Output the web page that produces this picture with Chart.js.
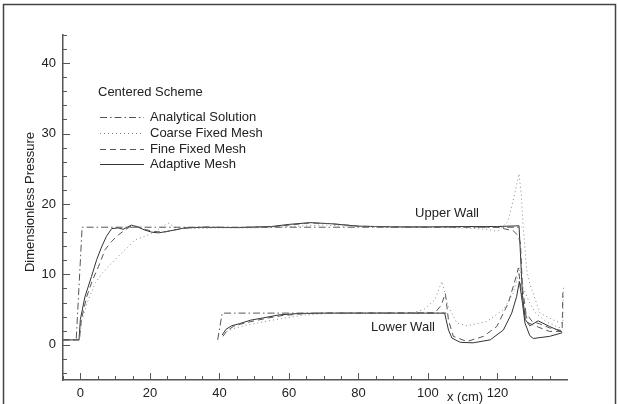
<!DOCTYPE html>
<html>
<head>
<meta charset="utf-8">
<script src="https://cdn.jsdelivr.net/npm/chart.js@4.4.1/dist/chart.umd.min.js"></script>
<style>
  body { margin: 0; background: #fff; }
  canvas { display: block; }
</style>
</head>
<body>
<canvas id="grafica" width="618" height="404"></canvas>
<script>
// tick labels
const xTicks = [0, 20, 40, 60, 80, 100, 120];
const yTicks = [0, 10, 20, 30, 40];

// series as [x, y]
const analyticalUpper = [[-5, 0.7], [-1.2, 0.7], [0.5, 16.7], [127, 16.7]];
const analyticalLower = [[39.5, 0.7], [40.8, 4.5], [105.3, 4.5]];

const adaptiveUpper = [[-5, 0.7], [-0.4, 0.7], [0, 3.6], [1.3, 6.8], [3.2, 9.7], [4.7, 12.1], [6.1, 13.9], [7.5, 15.4],
  [9, 16.5], [10.9, 16.6], [12.3, 16.4], [14.7, 17.0], [16.6, 16.7], [18.5, 16.3], [20.5, 16.0], [22.5, 15.9],
  [26, 16.2], [30, 16.6], [35, 16.7], [45, 16.65], [55, 16.8], [60, 17.1], [66, 17.35], [72, 17.2], [80, 16.85],
  [90, 16.75], [100, 16.75], [110, 16.8], [120, 16.8], [126.2, 16.9], [126.6, 13], [127.2, 7], [128, 3.6],
  [129.3, 2.7], [131.7, 3.4], [135, 2.6], [138.6, 1.8]];
const adaptiveLower = [[40.8, 1.4], [41.9, 2.2], [43.5, 2.7], [45.8, 3.0], [49, 3.5], [52.4, 3.8], [57.2, 4.25],
  [63, 4.45], [70, 4.5], [104.8, 4.5], [105.9, 2.1], [106.9, 0.95], [109.3, 0.35], [113, 0.28], [117.9, 0.7],
  [121.7, 2.1], [124.1, 4.5], [125.5, 6.85], [126.3, 9.0], [127.2, 5.9], [127.9, 3.1], [129.3, 1.3], [130.3, 0.9],
  [135, 1.2], [138.6, 1.7]];

const fineUpper = [[-5, 0.7], [-0.3, 0.7], [0.3, 3.6], [1.8, 6.8], [3.5, 9.2], [5.2, 11.1], [7.1, 13.5], [9, 14.7],
  [10.9, 15.6], [12.8, 16.3], [14.7, 16.9], [16.5, 16.8], [18.5, 16.4], [21, 16.1], [24, 16.0], [27, 16.3],
  [31, 16.6], [35, 16.7], [45, 16.65], [55, 16.75], [60, 17.0], [66, 17.3], [72, 17.2], [80, 16.85], [90, 16.75],
  [100, 16.7], [110, 16.75], [120, 16.7], [124.5, 16.2], [125.8, 15.6], [126.6, 14.5], [127.2, 8], [128.2, 4.5],
  [130, 3.3], [132, 3.0], [135, 2.4], [138.6, 2.0], [138.8, 7.4]];
const fineLower = [[41, 1.2], [42.2, 2.0], [44, 2.6], [46.5, 3.0], [50, 3.4], [54, 3.8], [58, 4.15], [64, 4.4],
  [70, 4.5], [102, 4.55], [103.8, 5.6], [105, 7.3], [105.9, 3.5], [107.3, 1.2], [111.2, 0.47], [116, 1.2],
  [119.8, 2.6], [123.1, 5.9], [125.5, 9.9], [126, 10.9], [127.4, 5.4], [128.9, 3.1], [131.8, 2.5], [135, 1.9],
  [138.6, 1.9]];

const coarseUpper = [[-5, 0.7], [-0.2, 0.7], [0.4, 3.5], [2, 6.0], [4.2, 8.7], [6, 10], [8, 11.1], [10, 12.1],
  [11.8, 13.0], [13.5, 13.8], [15.7, 14.9], [18, 15.3], [20.4, 15.8], [23, 16.6], [25.2, 17.3], [28, 16.5],
  [32, 16.5], [40, 16.6], [50, 16.6], [60, 16.8], [70, 17.0], [80, 16.8], [90, 16.7], [100, 16.7], [110, 16.6],
  [117, 16.4], [120, 16.1], [123, 17.5], [124.5, 20.5], [126.2, 24.3], [126.8, 21.5], [127.4, 16.8], [128.4, 10.6],
  [129.3, 8.7], [132.2, 4.5], [137, 3.3], [138.8, 3.1], [139, 8.5]];
const coarseLower = [[41, 1.66], [44, 2.3], [47.7, 2.8], [55.3, 3.5], [63.9, 4.2], [70, 4.4], [76, 4.5], [95, 4.5],
  [98.8, 5.0], [102, 6.4], [104, 9.0], [105.9, 5.4], [108.3, 3.1], [111.2, 2.7], [116.9, 3.3], [121.7, 5.0],
  [124.5, 7.3], [126, 9.9], [126.4, 11], [127.5, 8], [129, 6.2], [131, 4.5], [134, 3.3], [137, 2.6], [138.8, 2.3]];

const fuente = '"Liberation Sans", Arial, sans-serif';

// line styles per series
const estilos = {
  analytical: { color: '#555', dash: [7, 3, 1.5, 3], width: 1 },
  coarse: { color: '#888', dash: [1, 3], width: 1 },
  fine: { color: '#555', dash: [6, 4], width: 1 },
  adaptive: { color: '#333', dash: [], width: 1 }
};

function serie(puntos, tipo) {
  const e = estilos[tipo];
  return {
    data: puntos.map(p => ({ x: p[0], y: p[1] })),
    showLine: true,
    borderColor: e.color,
    borderDash: e.dash,
    borderWidth: e.width,
    pointRadius: 0,
    tension: 0,
    fill: false
  };
}

// leyenda, textos y marcas hacia adentro
const decorado = {
  id: 'decorado',
  afterDraw(chart) {
    const ctx = chart.ctx;
    const xs = chart.scales.x;
    const ys = chart.scales.y;
    const area = chart.chartArea;
    ctx.save();

    // marco de la figura
    ctx.strokeStyle = '#444';
    ctx.lineWidth = 1.5;
    ctx.beginPath();
    ctx.moveTo(3.5, 404);
    ctx.lineTo(3.5, 4.5);
    ctx.lineTo(615.5, 4.5);
    ctx.lineTo(615.5, 404);
    ctx.stroke();

    // marcas del eje x
    ctx.strokeStyle = '#555';
    ctx.lineWidth = 1;
    for (let v = -5; v <= 135; v += 5) {
      const px = Math.round(xs.getPixelForValue(v)) + 0.5;
      const largo = v % 20 === 0 ? 7 : 4;
      ctx.beginPath();
      ctx.moveTo(px, area.bottom);
      ctx.lineTo(px, area.bottom - largo);
      ctx.stroke();
    }
    // marcas del eje y
    for (let v = -4; v <= 44; v += 2) {
      const py = Math.round(ys.getPixelForValue(v)) + 0.5;
      const largo = v % 10 === 0 ? 7 : 4;
      ctx.beginPath();
      ctx.moveTo(area.left, py);
      ctx.lineTo(area.left + largo, py);
      ctx.stroke();
    }

    ctx.fillStyle = '#222';
    ctx.font = '13px ' + fuente;

    // titulo eje y
    ctx.save();
    ctx.translate(30, 202);
    ctx.rotate(-Math.PI / 2);
    ctx.textAlign = 'center';
    ctx.textBaseline = 'middle';
    ctx.fillText('Dimensionless Pressure', 0, 0);
    ctx.restore();

    // titulo eje x
    ctx.textAlign = 'center';
    ctx.textBaseline = 'middle';
    ctx.fillText('x (cm)', 465, 397);

    // etiquetas de las paredes
    ctx.fillText('Upper Wall', 447, 213);
    ctx.fillText('Lower Wall', 403, 327);

    // leyenda
    ctx.textAlign = 'left';
    ctx.fillText('Centered Scheme', 98, 92);
    const filas = ['analytical', 'coarse', 'fine', 'adaptive'];
    const nombres = ['Analytical Solution', 'Coarse Fixed Mesh', 'Fine Fixed Mesh', 'Adaptive Mesh'];
    const ysLeyenda = [117, 133, 149, 164];
    filas.forEach((t, i) => {
      const e = estilos[t];
      ctx.strokeStyle = e.color;
      ctx.lineWidth = e.width;
      ctx.setLineDash(e.dash);
      ctx.beginPath();
      ctx.moveTo(100, ysLeyenda[i] + 0.5);
      ctx.lineTo(144, ysLeyenda[i] + 0.5);
      ctx.stroke();
      ctx.setLineDash([]);
      ctx.fillText(nombres[i], 150, ysLeyenda[i]);
    });
    ctx.restore();
  }
};

const ctx = document.getElementById('grafica').getContext('2d');
const grafica = new Chart(ctx, {
  type: 'scatter',
  data: {
    datasets: [
      serie(analyticalUpper, 'analytical'),
      serie(analyticalLower, 'analytical'),
      serie(coarseUpper, 'coarse'),
      serie(coarseLower, 'coarse'),
      serie(fineUpper, 'fine'),
      serie(fineLower, 'fine'),
      serie(adaptiveUpper, 'adaptive'),
      serie(adaptiveLower, 'adaptive')
    ]
  },
  options: {
    responsive: false,
    animation: false,
    layout: { padding: { top: 35, right: 51, left: 0, bottom: 0 } },
    plugins: { legend: { display: false }, tooltip: { enabled: false } },
    scales: {
      x: {
        type: 'linear',
        min: -5,
        max: 140,
        grid: { display: false, drawTicks: false },
        border: { display: true, color: '#555', width: 1.5 },
        afterBuildTicks: s => { s.ticks = xTicks.map(v => ({ value: v })); },
        afterFit: s => { s.height = 24; },
        ticks: { color: '#222', font: { family: fuente, size: 13 }, padding: 6, maxRotation: 0 }
      },
      y: {
        type: 'linear',
        min: -5,
        max: 44,
        grid: { display: false, drawTicks: false },
        border: { display: true, color: '#555', width: 1.5 },
        afterBuildTicks: s => { s.ticks = yTicks.map(v => ({ value: v })); },
        afterFit: s => { s.width = 63; },
        ticks: { color: '#222', font: { family: fuente, size: 13 }, padding: 7 }
      }
    }
  },
  plugins: [decorado]
});
</script>
</body>
</html>
